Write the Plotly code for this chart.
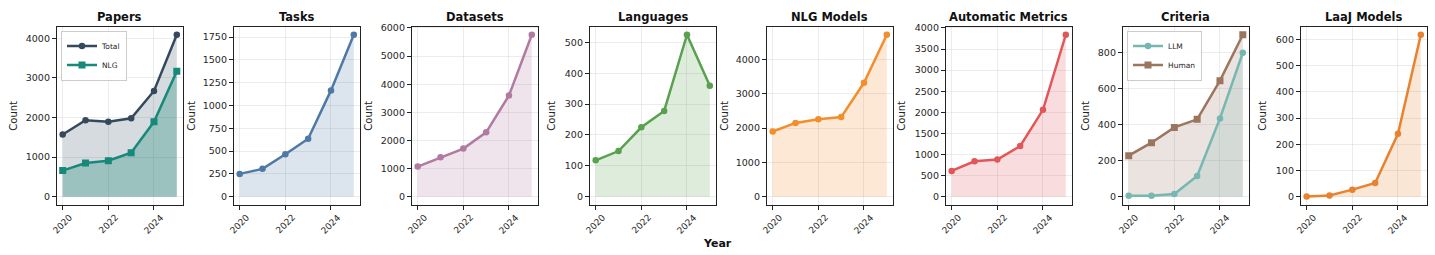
import plotly.graph_objects as go

years = [2020, 2021, 2022, 2023, 2024, 2025]
tick_years = [2020, 2022, 2024]

papers_total = [1570, 1930, 1890, 1980, 2670, 4090]
papers_nlg = [660, 850, 910, 1110, 1890, 3170]
tasks = [250, 305, 465, 635, 1165, 1775]
datasets = [1070, 1400, 1710, 2290, 3600, 5760]
languages = [118, 148, 225, 278, 525, 360]
nlg_models = [1900, 2150, 2260, 2320, 3320, 4720]
auto_metrics = [610, 840, 880, 1200, 2060, 3840]
criteria_llm = [5, 5, 15, 115, 435, 800]
criteria_human = [228, 300, 385, 430, 645, 900]
laaj_models = [1, 5, 27, 52, 240, 618]

titles = ["Papers", "Tasks", "Datasets", "Languages", "NLG Models",
          "Automatic Metrics", "Criteria", "LaaJ Models"]

# panels: list of series (name, values, color, symbol, fill alpha)
panels = [
    [("Total", papers_total, "#34495e", "circle", 0.2),
     ("NLG", papers_nlg, "#16897a", "square", 0.3)],
    [("Tasks", tasks, "#4e79a7", "circle", 0.2)],
    [("Datasets", datasets, "#b07aa1", "circle", 0.2)],
    [("Languages", languages, "#59a14f", "circle", 0.2)],
    [("NLG Models", nlg_models, "#f28e2b", "circle", 0.2)],
    [("Automatic Metrics", auto_metrics, "#e15759", "circle", 0.2)],
    [("Human", criteria_human, "#9c755f", "square", 0.2),
     ("LLM", criteria_llm, "#76b7b2", "circle", 0.2)],
    [("LaaJ Models", laaj_models, "#e8822e", "circle", 0.2)],
]
dticks = [1000, 250, 1000, 100, 1000, 500, 200, 100]
legend_panels = {0: "legend", 6: "legend2"}

W, H = 1435, 255
lefts = [57, 234, 412, 590, 767, 946, 1123, 1301]
pw = 125.5
top_px, bot_px = 23, 204
count_offsets = [43, 42, 43, 38, 42, 44, 37, 38]


def rgba(hexc, a):
    h = hexc.lstrip("#")
    r, g, b = int(h[0:2], 16), int(h[2:4], 16), int(h[4:6], 16)
    return f"rgba({r},{g},{b},{a})"


fig = go.Figure()
annotations = []
font_main = "DejaVu Sans, Arial, sans-serif"
txt_col = "#262626"

for i, series in enumerate(panels):
    n = i + 1
    xa = "x" if n == 1 else f"x{n}"
    ya = "y" if n == 1 else f"y{n}"
    # fills first
    for name, vals, col, sym, alpha in series:
        fig.add_trace(go.Scatter(x=years, y=vals, mode="none", fill="tozeroy",
                                 fillcolor=rgba(col, alpha), showlegend=False,
                                 hoverinfo="skip", xaxis=xa, yaxis=ya))
    leg = legend_panels.get(i)
    line_traces = []
    for name, vals, col, sym, alpha in series:
        line_traces.append(go.Scatter(
            x=years, y=vals, mode="lines+markers", name=name,
            line=dict(color=col, width=2.5),
            marker=dict(symbol=sym, size=7 if sym == "square" else 6.5, color=col),
            showlegend=leg is not None, legend=leg if leg else "legend",
            xaxis=xa, yaxis=ya))
    if i == 6:
        line_traces = line_traces[::-1]
    for t in line_traces:
        fig.add_trace(t)

    ymax = max(max(s[1]) for s in series)
    ymin = 0
    span = ymax - ymin
    x0 = lefts[i] / W
    x1 = (lefts[i] + pw) / W
    axis_common = dict(showline=True, mirror=True, linecolor="#222222", linewidth=1.3,
                       ticks="outside", ticklen=4, tickwidth=1, tickcolor="#222222",
                       showgrid=True, gridcolor="rgba(200,200,200,0.35)", gridwidth=1,
                       zeroline=False)
    fig.layout[f"xaxis{'' if n == 1 else n}"] = dict(
        domain=[x0, x1], anchor=ya, range=[2019.75, 2025.25],
        tickmode="array", tickvals=tick_years, showticklabels=False, **axis_common)
    fig.layout[f"yaxis{'' if n == 1 else n}"] = dict(
        domain=[1 - bot_px / H, 1 - top_px / H], anchor=xa,
        range=[ymin - 0.05 * span, ymax + 0.05 * span],
        tick0=0, dtick=dticks[i], showticklabels=True,
        tickfont=dict(size=9.5, color=txt_col, family=font_main), **axis_common)

    dom = f"{xa} domain"
    # title
    annotations.append(dict(text=f"<b>{titles[i]}</b>", xref=dom, yref=f"{ya} domain",
                            x=0.5, y=1, xanchor="center", yanchor="bottom", yshift=1,
                            showarrow=False, font=dict(size=11.5, color="#111111", family=font_main)))
    # y label
    annotations.append(dict(text="Count", xref=dom, yref=f"{ya} domain", x=0, y=0.5,
                            xanchor="center", yanchor="middle", xshift=-count_offsets[i],
                            textangle=-90, showarrow=False,
                            font=dict(size=10, color=txt_col, family=font_main)))
    # x tick labels (rotated, centred on tick)
    for yr in tick_years:
        annotations.append(dict(text=str(yr), xref=xa, yref=f"{ya} domain", x=yr, y=0,
                                xanchor="center", yanchor="middle", yshift=-19,
                                textangle=-45, showarrow=False,
                                font=dict(size=9, color=txt_col, family=font_main)))

annotations.append(dict(text="<b>Year</b>", xref="paper", yref="paper",
                        x=717 / W, y=1 - 243 / H, xanchor="center", yanchor="middle",
                        showarrow=False, font=dict(size=11, color="#111111", family=font_main)))

legend_style = dict(bgcolor="rgba(255,255,255,0.85)", bordercolor="#cccccc", borderwidth=1,
                    font=dict(size=7.5, color=txt_col, family=font_main),
                    xanchor="left", yanchor="top", itemwidth=30, tracegroupgap=0)
fig.update_layout(
    width=W, height=H, margin=dict(l=0, r=0, t=0, b=0),
    paper_bgcolor="white", plot_bgcolor="white",
    annotations=annotations,
    legend=dict(x=(lefts[0] + 4) / W, y=1 - (top_px + 4) / H, **legend_style),
    legend2=dict(x=(lefts[6] + 4) / W, y=1 - (top_px + 4) / H, **legend_style),
    font=dict(family=font_main),
)

fig.write_html("out.html", config={"displayModeBar": False},
               post_script="document.body.style.margin='0';document.body.style.overflow='hidden';")
